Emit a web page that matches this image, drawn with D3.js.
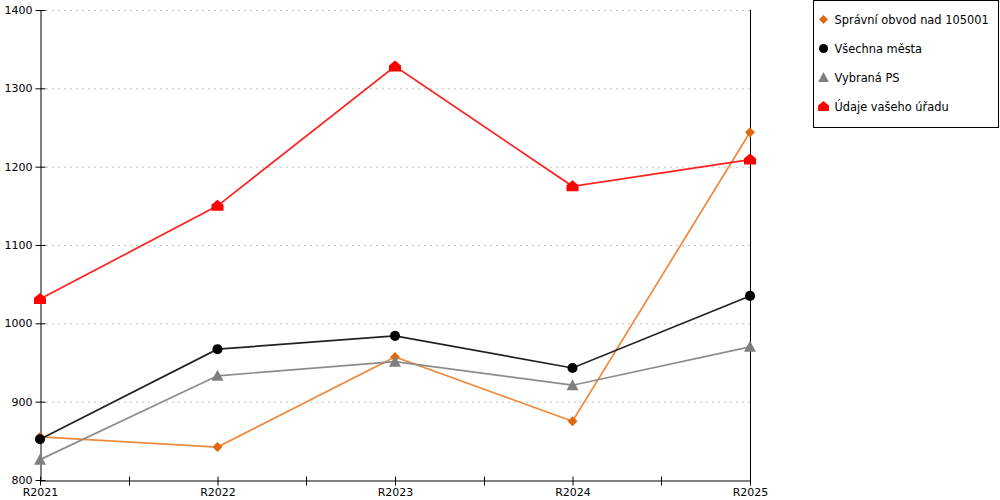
<!DOCTYPE html>
<html>
<head>
<meta charset="utf-8">
<script src="https://cdn.jsdelivr.net/npm/d3@7"></script>
<style>
  body { margin: 0; background: #fff; }
  #graf { width: 1000px; height: 500px; }
  text { font-family: "DejaVu Sans", Verdana, sans-serif; }
</style>
</head>
<body>
<div id="graf"></div>
<script>
// Datos
roky = ['R2021', 'R2022', 'R2023', 'R2024', 'R2025']
spravniObvod = [855, 842, 957, 875, 1244]
vsechnaMesta = [852, 967, 984, 943, 1035]
vybranaPS = [826, 933, 951, 921, 970]
udajeUradu = [1031, 1150, 1328, 1175, 1209]
yTicks = [800, 900, 1000, 1100, 1200, 1300, 1400]

serie = [
  { nazev: 'Správní obvod nad 105001', hodnoty: spravniObvod, barva: '#ef8a3a', znacka: '#e06810', tvar: 'diamond' },
  { nazev: 'Všechna města', hodnoty: vsechnaMesta, barva: '#222222', znacka: '#000000', tvar: 'circle' },
  { nazev: 'Vybraná PS', hodnoty: vybranaPS, barva: '#8c8c8c', znacka: '#7f7f7f', tvar: 'triangle' },
  { nazev: 'Údaje vašeho úřadu', hodnoty: udajeUradu, barva: '#ff2020', znacka: '#ff0000', tvar: 'house' }
]

// Configuración
margins = { top: 10, left: 40, right: 250, bottom: 20 }
ancho = 1000 - margins.left - margins.right
alto = 500 - margins.top - margins.bottom

svg = d3.select('#graf').append('svg')
  .attr('width', 1000)
  .attr('height', 500)

g = svg.append('g')
  .attr('transform', `translate(${margins.left}, ${margins.top})`)

x = d3.scalePoint().domain(roky).range([0, ancho])
y = d3.scaleLinear().domain([800, 1400]).range([alto, 0])

// mřížka
g.selectAll('.grid')
  .data(yTicks.slice(1))
  .enter().append('line')
  .attr('x1', 0).attr('x2', ancho)
  .attr('y1', d => y(d) + 0.5).attr('y2', d => y(d) + 0.5)
  .attr('stroke', '#c0c0c0')
  .attr('stroke-dasharray', '2,4')

// pravá hrana
g.append('line')
  .attr('x1', ancho + 0.5).attr('x2', ancho + 0.5)
  .attr('y1', 0).attr('y2', alto)
  .attr('stroke', '#000')

// osa Y
yAxis = g.append('g')
  .attr('transform', 'translate(0.5, 0)')
  .call(d3.axisLeft(y).tickValues(yTicks).tickFormat(d3.format('d')).tickSize(5).tickSizeOuter(0))
yAxis.select('.domain').attr('stroke', '#000')
yAxis.selectAll('.tick line').attr('x2', 5).attr('x1', -5)
yAxis.selectAll('.tick text').attr('x', -8).style('font-size', '11px')
  .style('font-family', '"DejaVu Sans", Verdana, sans-serif')

// osa X
pulky = roky.slice(0, -1).map((r, i) => (x(r) + x(roky[i + 1])) / 2)
xAxis = g.append('g')
  .attr('transform', `translate(0, ${alto + 0.5})`)
  .call(d3.axisBottom(x).tickSize(5).tickSizeOuter(0))
xAxis.select('.domain').attr('stroke', '#000')
xAxis.selectAll('.tick line').attr('y1', -4).attr('y2', 5)
xAxis.selectAll('.tick text').attr('y', 8).style('font-size', '11px')
  .style('font-family', '"DejaVu Sans", Verdana, sans-serif')
xAxis.selectAll('.mezi')
  .data(pulky)
  .enter().append('line')
  .attr('x1', d => Math.round(d) + 0.5).attr('x2', d => Math.round(d) + 0.5)
  .attr('y1', -4).attr('y2', 5)
  .attr('stroke', '#000')

// tvary značek
function tvar(t) {
  if (t === 'diamond') return 'M0,-5L5,0L0,5L-5,0Z'
  if (t === 'circle') return d3.symbol(d3.symbolCircle, 80)()
  if (t === 'triangle') return 'M0,-6L6,5L-6,5Z'
  return 'M0,-6L6,-1L6,5L-6,5L-6,-1Z'
}

linka = d3.line()
  .x((d, i) => x(roky[i]))
  .y(d => y(d))

serie.forEach(s => {
  g.append('path')
    .datum(s.hodnoty)
    .attr('d', linka)
    .attr('fill', 'none')
    .attr('stroke', s.barva)
    .attr('stroke-width', 1.7)

  g.selectAll('.z-' + s.tvar)
    .data(s.hodnoty)
    .enter().append('path')
    .attr('class', 'z-' + s.tvar)
    .attr('d', tvar(s.tvar))
    .attr('transform', (d, i) => `translate(${x(roky[i])}, ${y(d)})`)
    .attr('fill', s.znacka)
})

// legenda
leg = svg.append('g').attr('transform', 'translate(813.5, 0.5)')
leg.append('rect')
  .attr('width', 185).attr('height', 127)
  .attr('fill', '#fff').attr('stroke', '#000')

polozky = leg.selectAll('.polozka')
  .data(serie)
  .enter().append('g')
  .attr('transform', (d, i) => `translate(10, ${19 + i * 29})`)

polozky.append('path')
  .attr('d', d => tvar(d.tvar))
  .attr('transform', 'scale(0.9)')
  .attr('fill', d => d.znacka)

polozky.append('text')
  .attr('x', 11)
  .attr('dy', '0.35em')
  .style('font-size', '11.4px')
  .text(d => d.nazev)
</script>
</body>
</html>
